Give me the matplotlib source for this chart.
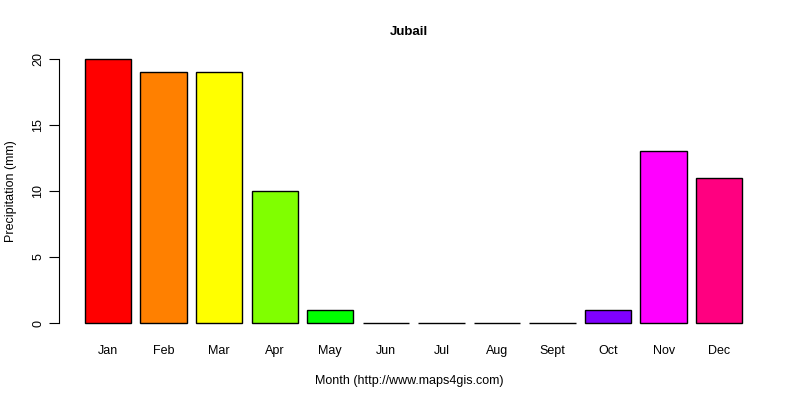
import numpy as np
import matplotlib
matplotlib.use("Agg")
import matplotlib.pyplot as plt

plt.rcParams['font.family'] = ['Liberation Sans', 'DejaVu Sans']

months = ['Jan', 'Feb', 'Mar', 'Apr', 'May', 'Jun', 'Jul', 'Aug', 'Sept', 'Oct', 'Nov', 'Dec']
precip = [20, 19, 19, 10, 1, 0, 0, 0, 0, 1, 13, 11]
colors = ['#FF0000', '#FF8000', '#FFFF00', '#80FF00', '#00FF00', '#00FF80',
          '#00FFFF', '#0080FF', '#0000FF', '#8000FF', '#FF00FF', '#FF0080']
yticks = [0, 5, 10, 15, 20]

fig = plt.figure(figsize=(8, 4), dpi=100)
ax = fig.add_axes([0.06125, 0.166, 0.9, 0.713])

# R barplot layout: width 1, space 0.2
x = 0.2 + np.arange(len(months)) * 1.2 + 0.5
ax.bar(x, precip, width=1.0, color=colors, edgecolor='black', linewidth=1.0)

xmax = len(months) * 1.2
ax.set_xlim(-0.04 * xmax, xmax * 1.04)
ax.set_ylim(-0.8, 20.8)

for s in ['top', 'right', 'bottom']:
    ax.spines[s].set_visible(False)
ax.spines['left'].set_bounds(0, 20)
ax.spines['left'].set_position(('data', -0.35))

ax.set_yticks(yticks)
ax.set_yticklabels([str(v) for v in yticks], rotation=90, va='center', fontsize=9)
ax.tick_params(axis='y', length=7, pad=4)
ax.set_xticks(x)
ax.set_xticklabels(months, fontsize=9)
ax.tick_params(axis='x', length=0, pad=8)

ax.set_title('Jubail', fontsize=9.5, fontweight='bold', pad=10)
ax.set_xlabel('Month (http://www.maps4gis.com)', fontsize=9, labelpad=13)
ax.set_ylabel('Precipitation (mm)', fontsize=9, labelpad=11)

fig.savefig('out.png', dpi=100)
